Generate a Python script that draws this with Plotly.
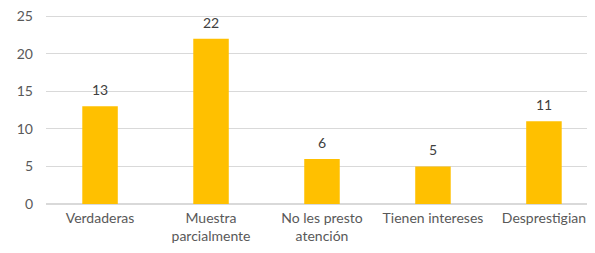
import plotly.graph_objects as go

categories = ["Verdaderas", "Muestra<br>parcialmente", "No les presto<br>atención", "Tienen intereses", "Desprestigian"]
values = [13, 22, 6, 5, 11]
y_ticks = [0, 5, 10, 15, 20, 25]

xs = list(range(len(categories)))
fig = go.Figure(go.Bar(
    x=xs, y=values,
    marker=dict(color="#FFC000", line=dict(width=0)),
    width=0.32,
))
for x, v in zip(xs, values):
    fig.add_annotation(x=x, y=v, text=str(v), showarrow=False, yanchor="bottom", yshift=6,
                       font=dict(color="#404040", size=14, family="Lato"))
fig.update_layout(
    width=587, height=237,
    margin=dict(l=38, r=0, t=7, b=41),
    paper_bgcolor="white", plot_bgcolor="white",
    font=dict(family="Lato", size=14, color="#595959"),
    showlegend=False,
    xaxis=dict(range=[-0.487, 4.46], tickmode="array", tickvals=xs,
               ticktext=categories, showgrid=False, zeroline=False, showline=False, ticks="",
               automargin=False, ticklabelstandoff=4, ticklabeloverflow="allow"),
    yaxis=dict(range=[0, 25.15], tickvals=y_ticks, showgrid=True, gridcolor="#D9D9D9", gridwidth=1,
               zeroline=True, zerolinecolor="#D9D9D9", showline=False, ticks="",
               automargin=False, ticklabelstandoff=12, ticklabeloverflow="allow"),
)
fig.write_html("out.html")
